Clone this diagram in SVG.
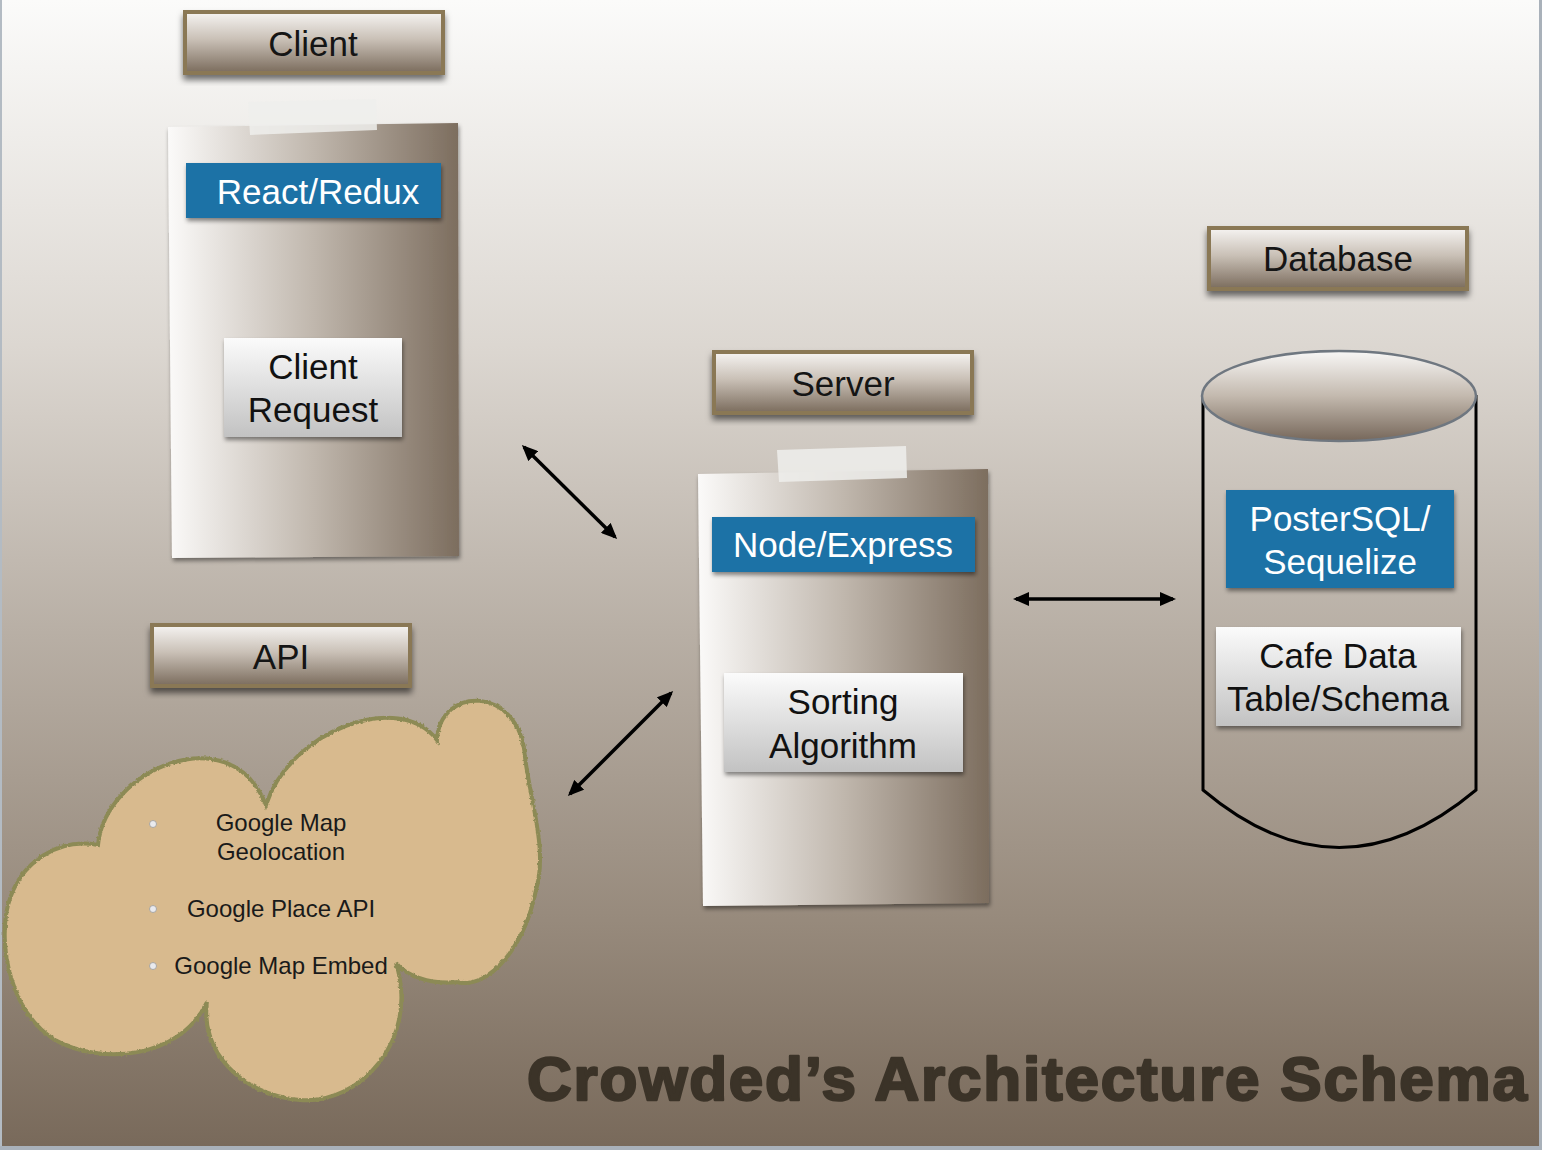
<svg xmlns="http://www.w3.org/2000/svg" width="1542" height="1150" viewBox="0 0 1542 1150">
<defs>
<linearGradient id="bg" x1="0" y1="0" x2="0" y2="1">
<stop offset="0" stop-color="#fbfbfa"/>
<stop offset="0.3" stop-color="#dcd7d1"/>
<stop offset="0.55" stop-color="#b8afa5"/>
<stop offset="0.8" stop-color="#978a7c"/>
<stop offset="1" stop-color="#78695a"/>
</linearGradient>
<linearGradient id="hdrGrad" x1="0" y1="0" x2="0" y2="1">
<stop offset="0" stop-color="#f6f4f2"/>
<stop offset="0.45" stop-color="#c9c0b6"/>
<stop offset="1" stop-color="#7a6b5c"/>
</linearGradient>
<linearGradient id="paperGrad" x1="0" y1="0" x2="1" y2="0">
<stop offset="0" stop-color="#fbfaf9"/>
<stop offset="0.5" stop-color="#c0b7ad"/>
<stop offset="1" stop-color="#7c6d5e"/>
</linearGradient>
<linearGradient id="whiteGrad" x1="0" y1="0" x2="0" y2="1">
<stop offset="0" stop-color="#fbfbfb"/>
<stop offset="1" stop-color="#c2c2c2"/>
</linearGradient>
<linearGradient id="ellGrad" x1="0" y1="0" x2="0" y2="1">
<stop offset="0" stop-color="#f8f7f6"/>
<stop offset="0.5" stop-color="#c3b9ae"/>
<stop offset="1" stop-color="#76675a"/>
</linearGradient>
<filter id="shadow" x="-10%" y="-10%" width="120%" height="130%">
<feDropShadow dx="0" dy="5" stdDeviation="3" flood-color="#000" flood-opacity="0.55"/>
</filter>
<filter id="softShadow" x="-10%" y="-10%" width="120%" height="130%">
<feDropShadow dx="1" dy="3" stdDeviation="2" flood-color="#000" flood-opacity="0.45"/>
</filter>
<filter id="rough" x="-5%" y="-5%" width="110%" height="110%">
<feTurbulence type="fractalNoise" baseFrequency="0.35" numOctaves="2" seed="3" result="n"/>
<feDisplacementMap in="SourceGraphic" in2="n" scale="3" xChannelSelector="R" yChannelSelector="G"/>
</filter>
<marker id="ah" viewBox="0 0 16 14" refX="13" refY="7" markerWidth="16" markerHeight="14" markerUnits="userSpaceOnUse" orient="auto-start-reverse">
<path d="M0,0 L16,7 L0,14 z" fill="#000"/>
</marker>
<style>
.hdr rect{fill:url(#hdrGrad);stroke:#8a7854;stroke-width:4;filter:url(#shadow)}
.t{font-family:"Liberation Sans",Arial,Helvetica,sans-serif;text-anchor:middle}
.ht{font-size:35px;fill:#151515}
.bt{font-size:35px;fill:#ffffff}
.wt{font-size:35px;fill:#111111}
.ct{font-size:24px;fill:#1a1a1a}
.blue{fill:#1e72a6;filter:url(#softShadow)}
.wbox{fill:url(#whiteGrad);filter:url(#softShadow)}
.paper{fill:url(#paperGrad);filter:url(#softShadow)}
.tape{fill:#efeeec;opacity:0.85}
.conn{stroke:#000;stroke-width:3.5;fill:none;marker-start:url(#ah);marker-end:url(#ah)}
.bullet{fill:#e9eaee;stroke:#9a9a9a;stroke-width:0.8}
</style>
</defs>

<rect x="0" y="0" width="1542" height="1150" fill="url(#bg)"/>
<rect x="0" y="0" width="2" height="1150" fill="#b3bbc3"/>
<rect x="1539" y="0" width="3" height="1150" fill="#a9b1ba"/>
<rect x="0" y="1146" width="1542" height="4" fill="#a9b1ba"/>

<g id="client-header" class="hdr">
<rect x="185" y="12" width="258" height="61"/>
<text class="t ht" x="313" y="56">Client</text>
</g>

<g id="client-panel">
<polygon class="paper" points="168,127 458,123 459,556 172,558"/>
<polygon class="tape" points="248,102 376,99 377,130 250,135"/>
</g>

<g id="react-redux">
<rect class="blue" x="186" y="163" width="255" height="55"/>
<text class="t bt" x="318" y="204">React/Redux</text>
</g>

<g id="client-request">
<rect class="wbox" x="224" y="338" width="178" height="99"/>
<text class="t wt" x="313" y="379">Client</text>
<text class="t wt" x="313" y="422">Request</text>
</g>

<g id="api-header" class="hdr">
<rect x="152" y="625" width="258" height="61"/>
<text class="t ht" x="281" y="669">API</text>
</g>

<g id="api-cloud">
<path filter="url(#rough)" fill="#d8ba8e" stroke="#8c8a55" stroke-width="4" d="M98,845 C105,770 230,715 266,805 C290,730 400,690 437,740 C440,685 520,685 525,757 C530,800 548,850 536,890 C525,945 490,990 457,982 C430,985 405,975 396,963 C420,1040 360,1105 300,1100 C240,1095 200,1050 207,1002 C180,1060 100,1065 55,1040 C10,1012 -2,945 8,905 C20,860 60,838 98,845 Z"/>
<circle class="bullet" cx="153" cy="824" r="3.5"/>
<circle class="bullet" cx="153" cy="909" r="3.5"/>
<circle class="bullet" cx="153" cy="966" r="3.5"/>
<text class="t ct" x="281" y="831">Google Map</text>
<text class="t ct" x="281" y="860">Geolocation</text>
<text class="t ct" x="281" y="917">Google Place API</text>
<text class="t ct" x="281" y="974">Google Map Embed</text>
</g>

<g id="server-header" class="hdr">
<rect x="714" y="352" width="258" height="61"/>
<text class="t ht" x="843" y="396">Server</text>
</g>

<g id="server-panel">
<polygon class="paper" points="698,474 988,469 989,903 703,906"/>
<polygon class="tape" points="777,450 906,446 907,478 779,482"/>
</g>

<g id="node-express">
<rect class="blue" x="712" y="517" width="263" height="55"/>
<text class="t bt" x="843" y="557">Node/Express</text>
</g>

<g id="sorting-algorithm">
<rect class="wbox" x="724" y="673" width="239" height="99"/>
<text class="t wt" x="843" y="714">Sorting</text>
<text class="t wt" x="843" y="758">Algorithm</text>
</g>

<g id="database-header" class="hdr">
<rect x="1209" y="228" width="258" height="61"/>
<text class="t ht" x="1338" y="271">Database</text>
</g>

<g id="database-cylinder">
<path d="M1203,395 L1203,790 Q1339,905 1476,790 L1476,395" fill="none" stroke="#000" stroke-width="3"/>
<ellipse cx="1339" cy="396" rx="137" ry="45" fill="url(#ellGrad)" stroke="#6f7780" stroke-width="2.5"/>
</g>

<g id="postgres">
<rect class="blue" x="1226" y="490" width="228" height="98"/>
<text class="t bt" x="1340" y="531">PosterSQL/</text>
<text class="t bt" x="1340" y="574">Sequelize</text>
</g>

<g id="cafe-data">
<rect class="wbox" x="1216" y="627" width="245" height="99"/>
<text class="t wt" x="1338" y="668">Cafe Data</text>
<text class="t wt" x="1338" y="711">Table/Schema</text>
</g>

<g id="connectors">
<line class="conn" x1="524" y1="447" x2="615" y2="537"/>
<line class="conn" x1="570" y1="794" x2="671" y2="693"/>
<line class="conn" x1="1016" y1="599" x2="1173" y2="599"/>
</g>

<g id="title">
<text x="527" y="1100" font-family="'Liberation Sans',Arial,Helvetica,sans-serif" font-weight="bold" font-size="62" fill="#3b3328" stroke="#3b3328" stroke-width="2.4" stroke-linejoin="round" textLength="1000" lengthAdjust="spacing">Crowded’s Architecture Schema</text>
</g>
</svg>
